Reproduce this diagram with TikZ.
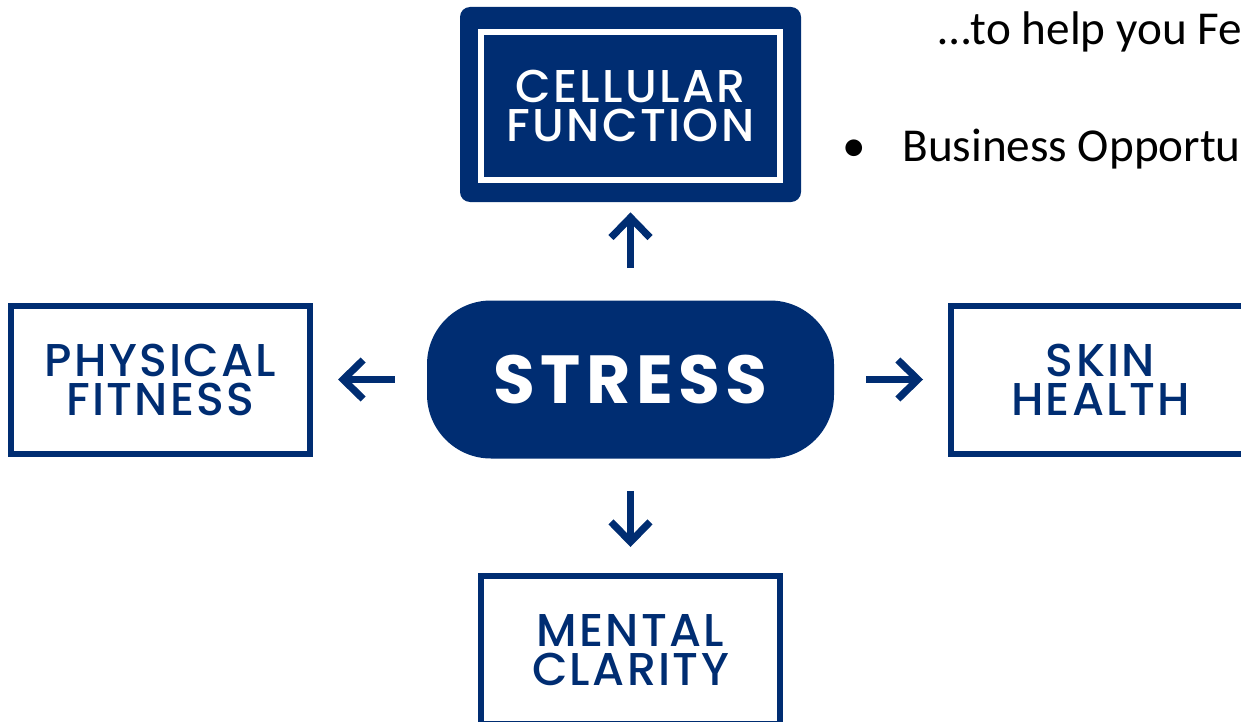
\documentclass[tikz,border=0pt]{standalone}
\usepackage{fontspec}
\usetikzlibrary{arrows.meta}

\definecolor{stressblue}{RGB}{0,45,114}
\newfontfamily\boxfont{Poppins}[UprightFont={* Medium}, BoldFont={* Bold}]
\newfontfamily\slidefont{Carlito}

\tikzset{
    labelbox/.style={draw=stressblue, line width=3pt, minimum width=149.5pt, minimum height=74pt,
        inner sep=0pt, text=stressblue, align=center,
        font=\boxfont\addfontfeature{LetterSpace=5}\fontsize{23pt}{19.5pt}\selectfont},
    arrowline/.style={draw=stressblue, line width=3.6pt, shorten <=16pt,
        -{Straight Barb[length=10pt, width=19.5pt]}},
    slidetext/.style={anchor=base west, inner sep=0pt,
        font=\slidefont\fontsize{23.6pt}{28pt}\selectfont}
}

\begin{document}
\begin{tikzpicture}[x=0.5pt, y=-0.5pt]
        \useasboundingbox (0,0) rectangle (1241,722);
        \clip (0,0) rectangle (1241,722);

        % Centre and top box
        \node[fill=stressblue, rounded corners=32pt, minimum width=203.5pt, minimum height=79pt, inner sep=0pt,
            text=white, font=\boxfont\bfseries\addfontfeature{LetterSpace=8}\fontsize{34pt}{34pt}\selectfont]
            (stress) at (630.5,379.5) {STRESS};
        \node[fill=stressblue, rounded corners=5pt, minimum width=170.5pt, minimum height=97.5pt] (cellular) at (630.5,104.5) {};
        \node[labelbox, draw=white, text=white] (cellfunc) at (630.5,106) {CELLULAR\\FUNCTION};

        % Outer boxes
        \node[labelbox] (physical) at (160.5,379.5) {PHYSICAL\\FITNESS};
        \node[labelbox] (skin) at (1100.5,379.5) {SKIN\\HEALTH};
        \node[labelbox] (mental) at (630.5,650) {MENTAL\\CLARITY};

        % Arrows
        \foreach \target/\from/\to/\gap in {cellular/north/south/5pt, physical/west/east/12.5pt,
                skin/east/west/12.5pt, mental/south/north/13pt} {
            \draw[arrowline, shorten >=\gap] (stress.\from) -- (\target.\to);
        }

        % Slide text
        \node[slidetext] (tagline) at (938,45) {…to help you Fe};
        \node[slidetext] (bullet) at (842,162) {•};
        \node[slidetext] (business) at (902,162) {Business Opportu};

    \end{tikzpicture}
\end{document}
